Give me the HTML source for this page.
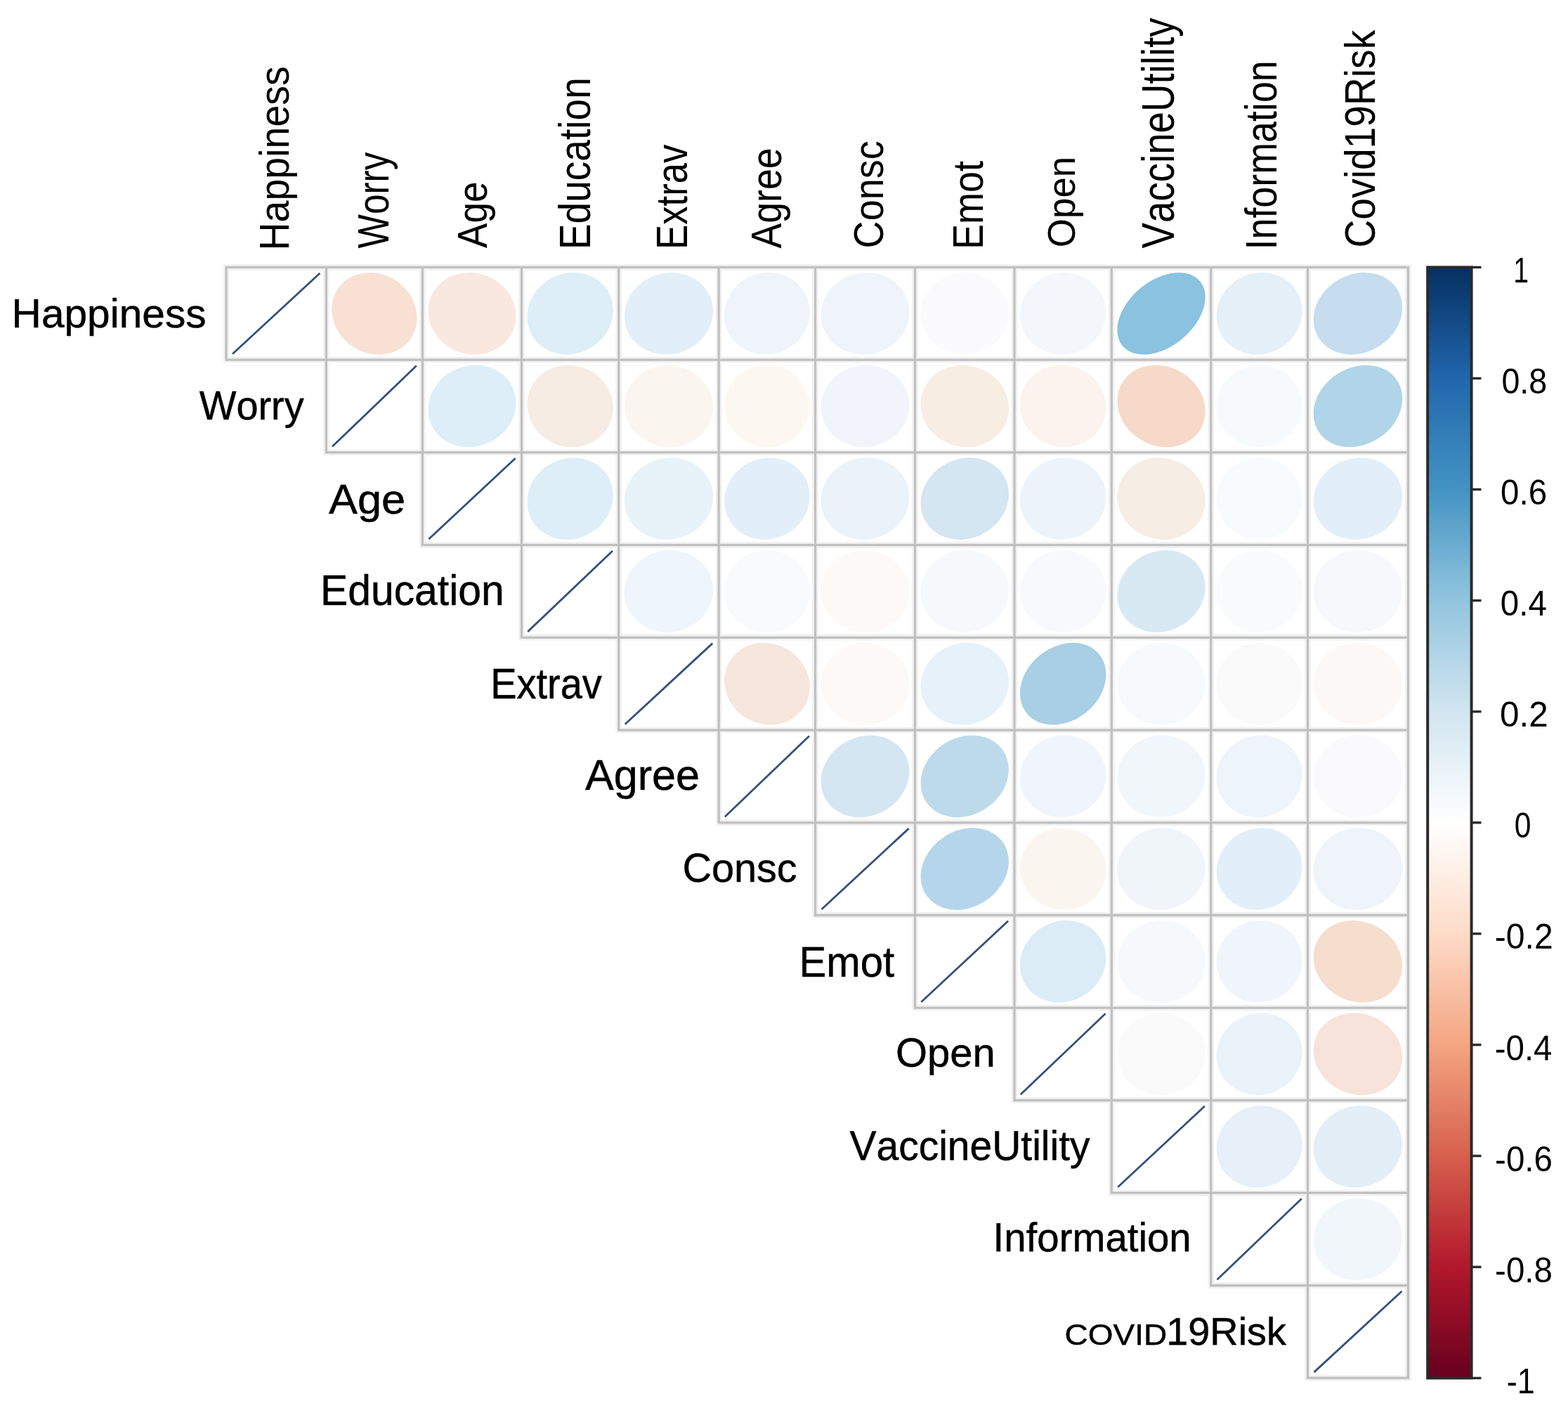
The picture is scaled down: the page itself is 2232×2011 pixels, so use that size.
<!DOCTYPE html>
<html><head><meta charset="utf-8"><style>
html,body{margin:0;padding:0;background:#fff;overflow:hidden;}
svg{display:block;}
text{font-family:"Liberation Sans",Arial,sans-serif;fill:#000;font-kerning:none;}
text.h{stroke:#000;stroke-width:0.5px;}
</style></head><body>
<svg width="2232" height="2011" viewBox="0 0 2232 2011">
<rect x="0" y="0" width="2232" height="2011" fill="#ffffff"/>
<path d="M322.0,380.4H464.4V512.1H322.0ZM464.4,380.4H601.4V512.1H464.4ZM601.4,380.4H742.5V512.1H601.4ZM742.5,380.4H880.7V512.1H742.5ZM880.7,380.4H1023.2V512.1H880.7ZM1023.2,380.4H1160.5V512.1H1023.2ZM1160.5,380.4H1302.5V512.1H1160.5ZM1302.5,380.4H1444.0V512.1H1302.5ZM1444.0,380.4H1582.3V512.1H1444.0ZM1582.3,380.4H1723.8V512.1H1582.3ZM1723.8,380.4H1861.5V512.1H1723.8ZM1861.5,380.4H2004.4V512.1H1861.5ZM464.4,512.1H601.4V643.9H464.4ZM601.4,512.1H742.5V643.9H601.4ZM742.5,512.1H880.7V643.9H742.5ZM880.7,512.1H1023.2V643.9H880.7ZM1023.2,512.1H1160.5V643.9H1023.2ZM1160.5,512.1H1302.5V643.9H1160.5ZM1302.5,512.1H1444.0V643.9H1302.5ZM1444.0,512.1H1582.3V643.9H1444.0ZM1582.3,512.1H1723.8V643.9H1582.3ZM1723.8,512.1H1861.5V643.9H1723.8ZM1861.5,512.1H2004.4V643.9H1861.5ZM601.4,643.9H742.5V775.6H601.4ZM742.5,643.9H880.7V775.6H742.5ZM880.7,643.9H1023.2V775.6H880.7ZM1023.2,643.9H1160.5V775.6H1023.2ZM1160.5,643.9H1302.5V775.6H1160.5ZM1302.5,643.9H1444.0V775.6H1302.5ZM1444.0,643.9H1582.3V775.6H1444.0ZM1582.3,643.9H1723.8V775.6H1582.3ZM1723.8,643.9H1861.5V775.6H1723.8ZM1861.5,643.9H2004.4V775.6H1861.5ZM742.5,775.6H880.7V907.3H742.5ZM880.7,775.6H1023.2V907.3H880.7ZM1023.2,775.6H1160.5V907.3H1023.2ZM1160.5,775.6H1302.5V907.3H1160.5ZM1302.5,775.6H1444.0V907.3H1302.5ZM1444.0,775.6H1582.3V907.3H1444.0ZM1582.3,775.6H1723.8V907.3H1582.3ZM1723.8,775.6H1861.5V907.3H1723.8ZM1861.5,775.6H2004.4V907.3H1861.5ZM880.7,907.3H1023.2V1039.1H880.7ZM1023.2,907.3H1160.5V1039.1H1023.2ZM1160.5,907.3H1302.5V1039.1H1160.5ZM1302.5,907.3H1444.0V1039.1H1302.5ZM1444.0,907.3H1582.3V1039.1H1444.0ZM1582.3,907.3H1723.8V1039.1H1582.3ZM1723.8,907.3H1861.5V1039.1H1723.8ZM1861.5,907.3H2004.4V1039.1H1861.5ZM1023.2,1039.1H1160.5V1170.8H1023.2ZM1160.5,1039.1H1302.5V1170.8H1160.5ZM1302.5,1039.1H1444.0V1170.8H1302.5ZM1444.0,1039.1H1582.3V1170.8H1444.0ZM1582.3,1039.1H1723.8V1170.8H1582.3ZM1723.8,1039.1H1861.5V1170.8H1723.8ZM1861.5,1039.1H2004.4V1170.8H1861.5ZM1160.5,1170.8H1302.5V1302.5H1160.5ZM1302.5,1170.8H1444.0V1302.5H1302.5ZM1444.0,1170.8H1582.3V1302.5H1444.0ZM1582.3,1170.8H1723.8V1302.5H1582.3ZM1723.8,1170.8H1861.5V1302.5H1723.8ZM1861.5,1170.8H2004.4V1302.5H1861.5ZM1302.5,1302.5H1444.0V1434.3H1302.5ZM1444.0,1302.5H1582.3V1434.3H1444.0ZM1582.3,1302.5H1723.8V1434.3H1582.3ZM1723.8,1302.5H1861.5V1434.3H1723.8ZM1861.5,1302.5H2004.4V1434.3H1861.5ZM1444.0,1434.3H1582.3V1566.0H1444.0ZM1582.3,1434.3H1723.8V1566.0H1582.3ZM1723.8,1434.3H1861.5V1566.0H1723.8ZM1861.5,1434.3H2004.4V1566.0H1861.5ZM1582.3,1566.0H1723.8V1697.7H1582.3ZM1723.8,1566.0H1861.5V1697.7H1723.8ZM1861.5,1566.0H2004.4V1697.7H1861.5ZM1723.8,1697.7H1861.5V1829.5H1723.8ZM1861.5,1697.7H2004.4V1829.5H1861.5ZM1861.5,1829.5H2004.4V1961.2H1861.5Z" fill="none" stroke="#f1f1f1" stroke-width="8.5"/>
<path d="M322.0,380.4H464.4V512.1H322.0ZM464.4,380.4H601.4V512.1H464.4ZM601.4,380.4H742.5V512.1H601.4ZM742.5,380.4H880.7V512.1H742.5ZM880.7,380.4H1023.2V512.1H880.7ZM1023.2,380.4H1160.5V512.1H1023.2ZM1160.5,380.4H1302.5V512.1H1160.5ZM1302.5,380.4H1444.0V512.1H1302.5ZM1444.0,380.4H1582.3V512.1H1444.0ZM1582.3,380.4H1723.8V512.1H1582.3ZM1723.8,380.4H1861.5V512.1H1723.8ZM1861.5,380.4H2004.4V512.1H1861.5ZM464.4,512.1H601.4V643.9H464.4ZM601.4,512.1H742.5V643.9H601.4ZM742.5,512.1H880.7V643.9H742.5ZM880.7,512.1H1023.2V643.9H880.7ZM1023.2,512.1H1160.5V643.9H1023.2ZM1160.5,512.1H1302.5V643.9H1160.5ZM1302.5,512.1H1444.0V643.9H1302.5ZM1444.0,512.1H1582.3V643.9H1444.0ZM1582.3,512.1H1723.8V643.9H1582.3ZM1723.8,512.1H1861.5V643.9H1723.8ZM1861.5,512.1H2004.4V643.9H1861.5ZM601.4,643.9H742.5V775.6H601.4ZM742.5,643.9H880.7V775.6H742.5ZM880.7,643.9H1023.2V775.6H880.7ZM1023.2,643.9H1160.5V775.6H1023.2ZM1160.5,643.9H1302.5V775.6H1160.5ZM1302.5,643.9H1444.0V775.6H1302.5ZM1444.0,643.9H1582.3V775.6H1444.0ZM1582.3,643.9H1723.8V775.6H1582.3ZM1723.8,643.9H1861.5V775.6H1723.8ZM1861.5,643.9H2004.4V775.6H1861.5ZM742.5,775.6H880.7V907.3H742.5ZM880.7,775.6H1023.2V907.3H880.7ZM1023.2,775.6H1160.5V907.3H1023.2ZM1160.5,775.6H1302.5V907.3H1160.5ZM1302.5,775.6H1444.0V907.3H1302.5ZM1444.0,775.6H1582.3V907.3H1444.0ZM1582.3,775.6H1723.8V907.3H1582.3ZM1723.8,775.6H1861.5V907.3H1723.8ZM1861.5,775.6H2004.4V907.3H1861.5ZM880.7,907.3H1023.2V1039.1H880.7ZM1023.2,907.3H1160.5V1039.1H1023.2ZM1160.5,907.3H1302.5V1039.1H1160.5ZM1302.5,907.3H1444.0V1039.1H1302.5ZM1444.0,907.3H1582.3V1039.1H1444.0ZM1582.3,907.3H1723.8V1039.1H1582.3ZM1723.8,907.3H1861.5V1039.1H1723.8ZM1861.5,907.3H2004.4V1039.1H1861.5ZM1023.2,1039.1H1160.5V1170.8H1023.2ZM1160.5,1039.1H1302.5V1170.8H1160.5ZM1302.5,1039.1H1444.0V1170.8H1302.5ZM1444.0,1039.1H1582.3V1170.8H1444.0ZM1582.3,1039.1H1723.8V1170.8H1582.3ZM1723.8,1039.1H1861.5V1170.8H1723.8ZM1861.5,1039.1H2004.4V1170.8H1861.5ZM1160.5,1170.8H1302.5V1302.5H1160.5ZM1302.5,1170.8H1444.0V1302.5H1302.5ZM1444.0,1170.8H1582.3V1302.5H1444.0ZM1582.3,1170.8H1723.8V1302.5H1582.3ZM1723.8,1170.8H1861.5V1302.5H1723.8ZM1861.5,1170.8H2004.4V1302.5H1861.5ZM1302.5,1302.5H1444.0V1434.3H1302.5ZM1444.0,1302.5H1582.3V1434.3H1444.0ZM1582.3,1302.5H1723.8V1434.3H1582.3ZM1723.8,1302.5H1861.5V1434.3H1723.8ZM1861.5,1302.5H2004.4V1434.3H1861.5ZM1444.0,1434.3H1582.3V1566.0H1444.0ZM1582.3,1434.3H1723.8V1566.0H1582.3ZM1723.8,1434.3H1861.5V1566.0H1723.8ZM1861.5,1434.3H2004.4V1566.0H1861.5ZM1582.3,1566.0H1723.8V1697.7H1582.3ZM1723.8,1566.0H1861.5V1697.7H1723.8ZM1861.5,1566.0H2004.4V1697.7H1861.5ZM1723.8,1697.7H1861.5V1829.5H1723.8ZM1861.5,1697.7H2004.4V1829.5H1861.5ZM1861.5,1829.5H2004.4V1961.2H1861.5Z" fill="none" stroke="#c0c0c0" stroke-width="3.3"/>
<ellipse transform="translate(532.90,446.27) scale(137.00,131.73) rotate(-45)" rx="0.4190" ry="0.4658" fill="#F8E0D3"/>
<ellipse transform="translate(671.95,446.27) scale(141.10,131.73) rotate(-45)" rx="0.4290" ry="0.4565" fill="#F8E8DF"/>
<ellipse transform="translate(811.60,446.27) scale(138.20,131.73) rotate(-45)" rx="0.4605" ry="0.4248" fill="#DDEEF7"/>
<ellipse transform="translate(951.95,446.27) scale(142.50,131.73) rotate(-45)" rx="0.4565" ry="0.4290" fill="#E3EFF8"/>
<ellipse transform="translate(1091.85,446.27) scale(137.30,131.73) rotate(-45)" rx="0.4512" ry="0.4347" fill="#EEF4FA"/>
<ellipse transform="translate(1231.50,446.27) scale(142.00,131.73) rotate(-45)" rx="0.4512" ry="0.4347" fill="#EEF4FA"/>
<ellipse transform="translate(1373.25,446.27) scale(141.50,131.73) rotate(-45)" rx="0.4444" ry="0.4416" fill="#FBFBFD"/>
<ellipse transform="translate(1513.15,446.27) scale(138.30,131.73) rotate(-45)" rx="0.4471" ry="0.4389" fill="#F3F7FB"/>
<ellipse transform="translate(1653.05,446.27) scale(141.50,131.73) rotate(-45)" rx="0.5242" ry="0.3431" fill="#8AC2DF"/>
<ellipse transform="translate(1792.65,446.27) scale(137.70,131.73) rotate(-45)" rx="0.4565" ry="0.4290" fill="#E5EFF7"/>
<ellipse transform="translate(1932.95,446.27) scale(142.90,131.73) rotate(-45)" rx="0.4748" ry="0.4087" fill="#C5DDEE"/>
<ellipse transform="translate(671.95,578.00) scale(141.10,131.73) rotate(-45)" rx="0.4605" ry="0.4248" fill="#DDEEF8"/>
<ellipse transform="translate(811.60,578.00) scale(138.20,131.73) rotate(-45)" rx="0.4333" ry="0.4525" fill="#F6ECE3"/>
<ellipse transform="translate(951.95,578.00) scale(142.50,131.73) rotate(-45)" rx="0.4375" ry="0.4485" fill="#FBF5F0"/>
<ellipse transform="translate(1091.85,578.00) scale(137.30,131.73) rotate(-45)" rx="0.4402" ry="0.4457" fill="#FCF8F1"/>
<ellipse transform="translate(1231.50,578.00) scale(142.00,131.73) rotate(-45)" rx="0.4485" ry="0.4375" fill="#F1F5FB"/>
<ellipse transform="translate(1373.25,578.00) scale(141.50,131.73) rotate(-45)" rx="0.4319" ry="0.4539" fill="#F8EDE3"/>
<ellipse transform="translate(1513.15,578.00) scale(138.30,131.73) rotate(-45)" rx="0.4361" ry="0.4498" fill="#FAF3EE"/>
<ellipse transform="translate(1653.05,578.00) scale(141.50,131.73) rotate(-45)" rx="0.4146" ry="0.4697" fill="#F6D9C8"/>
<ellipse transform="translate(1792.65,578.00) scale(137.70,131.73) rotate(-45)" rx="0.4457" ry="0.4402" fill="#F6FAFD"/>
<ellipse transform="translate(1932.95,578.00) scale(142.90,131.73) rotate(-45)" rx="0.4824" ry="0.3997" fill="#B0D4E8"/>
<ellipse transform="translate(811.60,709.73) scale(138.20,131.73) rotate(-45)" rx="0.4605" ry="0.4248" fill="#DDEEF7"/>
<ellipse transform="translate(951.95,709.73) scale(142.50,131.73) rotate(-45)" rx="0.4539" ry="0.4319" fill="#E8F2F9"/>
<ellipse transform="translate(1091.85,709.73) scale(137.30,131.73) rotate(-45)" rx="0.4565" ry="0.4290" fill="#E3EFF8"/>
<ellipse transform="translate(1231.50,709.73) scale(142.00,131.73) rotate(-45)" rx="0.4525" ry="0.4333" fill="#EAF3F9"/>
<ellipse transform="translate(1373.25,709.73) scale(141.50,131.73) rotate(-45)" rx="0.4671" ry="0.4175" fill="#D3E6F1"/>
<ellipse transform="translate(1513.15,709.73) scale(138.30,131.73) rotate(-45)" rx="0.4512" ry="0.4347" fill="#ECF4FA"/>
<ellipse transform="translate(1653.05,709.73) scale(141.50,131.73) rotate(-45)" rx="0.4319" ry="0.4539" fill="#F6EDE5"/>
<ellipse transform="translate(1792.65,709.73) scale(137.70,131.73) rotate(-45)" rx="0.4444" ry="0.4416" fill="#F8FBFD"/>
<ellipse transform="translate(1932.95,709.73) scale(142.90,131.73) rotate(-45)" rx="0.4565" ry="0.4290" fill="#E2EFF8"/>
<ellipse transform="translate(951.95,841.47) scale(142.50,131.73) rotate(-45)" rx="0.4498" ry="0.4361" fill="#EEF5FB"/>
<ellipse transform="translate(1091.85,841.47) scale(137.30,131.73) rotate(-45)" rx="0.4444" ry="0.4416" fill="#F8FAFC"/>
<ellipse transform="translate(1231.50,841.47) scale(142.00,131.73) rotate(-45)" rx="0.4416" ry="0.4444" fill="#FCF9F7"/>
<ellipse transform="translate(1373.25,841.47) scale(141.50,131.73) rotate(-45)" rx="0.4457" ry="0.4402" fill="#F6F9FC"/>
<ellipse transform="translate(1513.15,841.47) scale(138.30,131.73) rotate(-45)" rx="0.4444" ry="0.4416" fill="#F7F9FC"/>
<ellipse transform="translate(1653.05,841.47) scale(141.50,131.73) rotate(-45)" rx="0.4658" ry="0.4190" fill="#D8E9F3"/>
<ellipse transform="translate(1792.65,841.47) scale(137.70,131.73) rotate(-45)" rx="0.4437" ry="0.4423" fill="#FAFBFC"/>
<ellipse transform="translate(1932.95,841.47) scale(142.90,131.73) rotate(-45)" rx="0.4444" ry="0.4416" fill="#F6F8FB"/>
<ellipse transform="translate(1091.85,973.20) scale(137.30,131.73) rotate(-45)" rx="0.4262" ry="0.4592" fill="#F7E6DC"/>
<ellipse transform="translate(1231.50,973.20) scale(142.00,131.73) rotate(-45)" rx="0.4402" ry="0.4457" fill="#FCF9F6"/>
<ellipse transform="translate(1373.25,973.20) scale(141.50,131.73) rotate(-45)" rx="0.4552" ry="0.4305" fill="#E7F1F9"/>
<ellipse transform="translate(1513.15,973.20) scale(138.30,131.73) rotate(-45)" rx="0.4913" ry="0.3887" fill="#A8CFE5"/>
<ellipse transform="translate(1653.05,973.20) scale(141.50,131.73) rotate(-45)" rx="0.4457" ry="0.4402" fill="#F6FAFC"/>
<ellipse transform="translate(1792.65,973.20) scale(137.70,131.73) rotate(-45)" rx="0.4437" ry="0.4423" fill="#FBFAFB"/>
<ellipse transform="translate(1932.95,973.20) scale(142.90,131.73) rotate(-45)" rx="0.4402" ry="0.4457" fill="#FCF8F5"/>
<ellipse transform="translate(1231.50,1104.93) scale(142.00,131.73) rotate(-45)" rx="0.4697" ry="0.4146" fill="#D4E6F2"/>
<ellipse transform="translate(1373.25,1104.93) scale(141.50,131.73) rotate(-45)" rx="0.4786" ry="0.4042" fill="#BDDAEB"/>
<ellipse transform="translate(1513.15,1104.93) scale(138.30,131.73) rotate(-45)" rx="0.4498" ry="0.4361" fill="#EFF5FA"/>
<ellipse transform="translate(1653.05,1104.93) scale(141.50,131.73) rotate(-45)" rx="0.4485" ry="0.4375" fill="#F1F6FB"/>
<ellipse transform="translate(1792.65,1104.93) scale(137.70,131.73) rotate(-45)" rx="0.4512" ry="0.4347" fill="#EDF4FA"/>
<ellipse transform="translate(1932.95,1104.93) scale(142.90,131.73) rotate(-45)" rx="0.4437" ry="0.4423" fill="#FAF9FB"/>
<ellipse transform="translate(1373.25,1236.67) scale(141.50,131.73) rotate(-45)" rx="0.4824" ry="0.3997" fill="#B5D6EA"/>
<ellipse transform="translate(1513.15,1236.67) scale(138.30,131.73) rotate(-45)" rx="0.4375" ry="0.4485" fill="#FBF5F0"/>
<ellipse transform="translate(1653.05,1236.67) scale(141.50,131.73) rotate(-45)" rx="0.4485" ry="0.4375" fill="#F0F5FA"/>
<ellipse transform="translate(1792.65,1236.67) scale(137.70,131.73) rotate(-45)" rx="0.4565" ry="0.4290" fill="#E3EFF8"/>
<ellipse transform="translate(1932.95,1236.67) scale(142.90,131.73) rotate(-45)" rx="0.4498" ry="0.4361" fill="#EEF4FA"/>
<ellipse transform="translate(1513.15,1368.40) scale(138.30,131.73) rotate(-45)" rx="0.4618" ry="0.4233" fill="#DCECF6"/>
<ellipse transform="translate(1653.05,1368.40) scale(141.50,131.73) rotate(-45)" rx="0.4457" ry="0.4402" fill="#F6F9FC"/>
<ellipse transform="translate(1792.65,1368.40) scale(137.70,131.73) rotate(-45)" rx="0.4485" ry="0.4375" fill="#F0F5FB"/>
<ellipse transform="translate(1932.95,1368.40) scale(142.90,131.73) rotate(-45)" rx="0.4175" ry="0.4671" fill="#F6DECF"/>
<ellipse transform="translate(1653.05,1500.13) scale(141.50,131.73) rotate(-45)" rx="0.4437" ry="0.4423" fill="#FBFAFB"/>
<ellipse transform="translate(1792.65,1500.13) scale(137.70,131.73) rotate(-45)" rx="0.4525" ry="0.4333" fill="#EAF3FA"/>
<ellipse transform="translate(1932.95,1500.13) scale(142.90,131.73) rotate(-45)" rx="0.4233" ry="0.4618" fill="#F7E3D9"/>
<ellipse transform="translate(1792.65,1631.87) scale(137.70,131.73) rotate(-45)" rx="0.4539" ry="0.4319" fill="#E7F0F8"/>
<ellipse transform="translate(1932.95,1631.87) scale(142.90,131.73) rotate(-45)" rx="0.4565" ry="0.4290" fill="#E3EEF7"/>
<ellipse transform="translate(1932.95,1763.60) scale(142.90,131.73) rotate(-45)" rx="0.4485" ry="0.4375" fill="#F1F6FB"/>
<line x1="331.0" y1="503.8" x2="455.4" y2="388.7" stroke="#34507c" stroke-width="2.8"/>
<line x1="473.0" y1="635.6" x2="592.8" y2="520.4" stroke="#34507c" stroke-width="2.8"/>
<line x1="610.3" y1="767.3" x2="733.6" y2="652.2" stroke="#34507c" stroke-width="2.8"/>
<line x1="751.2" y1="899.0" x2="872.0" y2="783.9" stroke="#34507c" stroke-width="2.8"/>
<line x1="889.7" y1="1030.8" x2="1014.2" y2="915.6" stroke="#34507c" stroke-width="2.8"/>
<line x1="1031.8" y1="1162.5" x2="1151.9" y2="1047.4" stroke="#34507c" stroke-width="2.8"/>
<line x1="1169.4" y1="1294.2" x2="1293.6" y2="1179.1" stroke="#34507c" stroke-width="2.8"/>
<line x1="1311.4" y1="1426.0" x2="1435.1" y2="1310.8" stroke="#34507c" stroke-width="2.8"/>
<line x1="1452.7" y1="1557.7" x2="1573.6" y2="1442.6" stroke="#34507c" stroke-width="2.8"/>
<line x1="1591.2" y1="1689.4" x2="1714.9" y2="1574.3" stroke="#34507c" stroke-width="2.8"/>
<line x1="1732.5" y1="1821.2" x2="1852.8" y2="1706.0" stroke="#34507c" stroke-width="2.8"/>
<line x1="1870.5" y1="1952.9" x2="1995.4" y2="1837.8" stroke="#34507c" stroke-width="2.8"/>
<defs><linearGradient id="cb" x1="0" y1="1" x2="0" y2="0"><stop offset="0.0" stop-color="#67001F"/><stop offset="0.1" stop-color="#B2182B"/><stop offset="0.2" stop-color="#D6604D"/><stop offset="0.3" stop-color="#F4A582"/><stop offset="0.4" stop-color="#FDDBC7"/><stop offset="0.5" stop-color="#FFFFFF"/><stop offset="0.6" stop-color="#D1E5F0"/><stop offset="0.7" stop-color="#92C5DE"/><stop offset="0.8" stop-color="#4393C3"/><stop offset="0.9" stop-color="#2166AC"/><stop offset="1.0" stop-color="#053061"/></linearGradient></defs>
<rect x="2032.2" y="380.4" width="62.4" height="1580.9" fill="url(#cb)" stroke="#2a2a2a" stroke-width="4"/>
<line x1="2094.6" y1="380.4" x2="2108.5" y2="380.4" stroke="#2a2a2a" stroke-width="3.4"/>
<text x="2154.3" y="401.9" font-size="50" textLength="21.8" lengthAdjust="spacingAndGlyphs">1</text>
<line x1="2094.6" y1="538.5" x2="2108.5" y2="538.5" stroke="#2a2a2a" stroke-width="3.4"/>
<text x="2137.4" y="560.0" font-size="50" textLength="64.8" lengthAdjust="spacingAndGlyphs">0.8</text>
<line x1="2094.6" y1="696.6" x2="2108.5" y2="696.6" stroke="#2a2a2a" stroke-width="3.4"/>
<text x="2136.1" y="718.1" font-size="50" textLength="66.0" lengthAdjust="spacingAndGlyphs">0.6</text>
<line x1="2094.6" y1="854.7" x2="2108.5" y2="854.7" stroke="#2a2a2a" stroke-width="3.4"/>
<text x="2135.8" y="876.2" font-size="50" textLength="66.0" lengthAdjust="spacingAndGlyphs">0.4</text>
<line x1="2094.6" y1="1012.8" x2="2108.5" y2="1012.8" stroke="#2a2a2a" stroke-width="3.4"/>
<text x="2134.9" y="1034.3" font-size="50" textLength="68.8" lengthAdjust="spacingAndGlyphs">0.2</text>
<line x1="2094.6" y1="1170.8" x2="2108.5" y2="1170.8" stroke="#2a2a2a" stroke-width="3.4"/>
<text x="2155.8" y="1192.3" font-size="50" textLength="23.7" lengthAdjust="spacingAndGlyphs">0</text>
<line x1="2094.6" y1="1328.9" x2="2108.5" y2="1328.9" stroke="#2a2a2a" stroke-width="3.4"/>
<text x="2127.7" y="1350.4" font-size="50" textLength="83.0" lengthAdjust="spacingAndGlyphs">-0.2</text>
<line x1="2094.6" y1="1487.0" x2="2108.5" y2="1487.0" stroke="#2a2a2a" stroke-width="3.4"/>
<text x="2127.7" y="1508.5" font-size="50" textLength="81.8" lengthAdjust="spacingAndGlyphs">-0.4</text>
<line x1="2094.6" y1="1645.1" x2="2108.5" y2="1645.1" stroke="#2a2a2a" stroke-width="3.4"/>
<text x="2128.1" y="1666.6" font-size="50" textLength="81.8" lengthAdjust="spacingAndGlyphs">-0.6</text>
<line x1="2094.6" y1="1803.2" x2="2108.5" y2="1803.2" stroke="#2a2a2a" stroke-width="3.4"/>
<text x="2128.1" y="1824.7" font-size="50" textLength="81.8" lengthAdjust="spacingAndGlyphs">-0.8</text>
<line x1="2094.6" y1="1961.3" x2="2108.5" y2="1961.3" stroke="#2a2a2a" stroke-width="3.4"/>
<text x="2144.8" y="1982.8" font-size="50" textLength="40.1" lengthAdjust="spacingAndGlyphs">-1</text>
<text class="h" x="16.6" y="466.2" font-size="57.3" textLength="276.9" lengthAdjust="spacingAndGlyphs">Happiness</text>
<text class="h" x="283.7" y="596.5" font-size="58.0" textLength="148.9" lengthAdjust="spacingAndGlyphs">Worry</text>
<text class="h" x="468.1" y="730.8" font-size="59.3" textLength="109.1" lengthAdjust="spacingAndGlyphs">Age</text>
<text class="h" x="456.0" y="861.4" font-size="61.2" textLength="261.7" lengthAdjust="spacingAndGlyphs">Education</text>
<text class="h" x="698.2" y="994.0" font-size="61.2" textLength="158.6" lengthAdjust="spacingAndGlyphs">Extrav</text>
<text class="h" x="832.9" y="1123.5" font-size="61.2" textLength="163.1" lengthAdjust="spacingAndGlyphs">Agree</text>
<text class="h" x="971.5" y="1255.2" font-size="58.0" textLength="163.1" lengthAdjust="spacingAndGlyphs">Consc</text>
<text class="h" x="1137.4" y="1389.8" font-size="61.5" textLength="135.9" lengthAdjust="spacingAndGlyphs">Emot</text>
<text class="h" x="1275.0" y="1517.8" font-size="57.6" textLength="141.7" lengthAdjust="spacingAndGlyphs">Open</text>
<text class="h" x="1209.5" y="1651.0" font-size="58.3" textLength="342.0" lengthAdjust="spacingAndGlyphs">VaccineUtility</text>
<text class="h" x="1413.6" y="1781.2" font-size="57.3" textLength="282.1" lengthAdjust="spacingAndGlyphs">Information</text>
<text class="h" x="1515.6" y="1914.2" font-size="43.2" textLength="145.6" lengthAdjust="spacingAndGlyphs">COVID</text>
<text class="h" x="1660.2" y="1914.2" font-size="56.1" textLength="170.7" lengthAdjust="spacingAndGlyphs">19Risk</text>
<text class="v" transform="translate(410.5,356.6) rotate(-90)" x="0" y="0" font-size="60.0" textLength="262.4" lengthAdjust="spacingAndGlyphs">Happiness</text>
<text class="v" transform="translate(553.0,353.5) rotate(-90)" x="0" y="0" font-size="62.4" textLength="136.8" lengthAdjust="spacingAndGlyphs">Worry</text>
<text class="v" transform="translate(693.2,352.9) rotate(-90)" x="0" y="0" font-size="59.9" textLength="94.6" lengthAdjust="spacingAndGlyphs">Age</text>
<text class="v" transform="translate(839.7,355.3) rotate(-90)" x="0" y="0" font-size="62.8" textLength="245.2" lengthAdjust="spacingAndGlyphs">Education</text>
<text class="v" transform="translate(977.5,355.0) rotate(-90)" x="0" y="0" font-size="62.1" textLength="149.4" lengthAdjust="spacingAndGlyphs">Extrav</text>
<text class="v" transform="translate(1112.0,353.6) rotate(-90)" x="0" y="0" font-size="60.9" textLength="143.3" lengthAdjust="spacingAndGlyphs">Agree</text>
<text class="v" transform="translate(1256.5,353.4) rotate(-90)" x="0" y="0" font-size="60.0" textLength="153.3" lengthAdjust="spacingAndGlyphs">Consc</text>
<text class="v" transform="translate(1398.9,355.1) rotate(-90)" x="0" y="0" font-size="60.2" textLength="126.2" lengthAdjust="spacingAndGlyphs">Emot</text>
<text class="v" transform="translate(1530.4,352.2) rotate(-90)" x="0" y="0" font-size="56.1" textLength="129.5" lengthAdjust="spacingAndGlyphs">Open</text>
<text class="v" transform="translate(1671.4,353.5) rotate(-90)" x="0" y="0" font-size="65.0" textLength="328.2" lengthAdjust="spacingAndGlyphs">VaccineUtility</text>
<text class="v" transform="translate(1816.9,355.5) rotate(-90)" x="0" y="0" font-size="62.9" textLength="269.3" lengthAdjust="spacingAndGlyphs">Information</text>
<text class="v" transform="translate(1956.9,352.5) rotate(-90)" x="0" y="0" font-size="60.2" textLength="309.8" lengthAdjust="spacingAndGlyphs">Covid19Risk</text>
</svg>
</body></html>
